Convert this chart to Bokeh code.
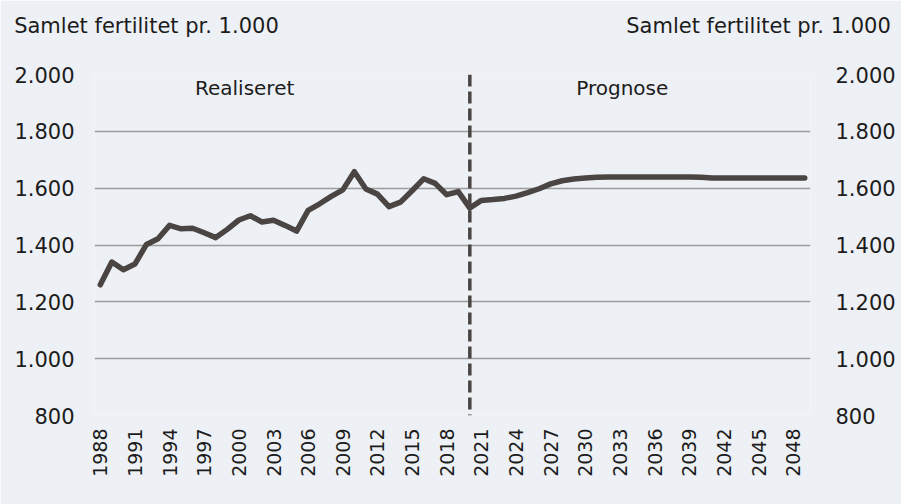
from bokeh.plotting import figure
from bokeh.models import Range1d, LinearAxis, FixedTicker, Span, Label
from bokeh.embed import file_html
from bokeh.resources import INLINE
import math

years = [1988, 1989, 1990, 1991, 1992, 1993, 1994, 1995, 1996, 1997,
         1998, 1999, 2000, 2001, 2002, 2003, 2004, 2005, 2006, 2007,
         2008, 2009, 2010, 2011, 2012, 2013, 2014, 2015, 2016, 2017,
         2018, 2019, 2020, 2021, 2022, 2023, 2024, 2025, 2026, 2027,
         2028, 2029, 2030, 2031, 2032, 2033, 2034, 2035, 2036, 2037,
         2038, 2039, 2040, 2041, 2042, 2043, 2044, 2045, 2046, 2047,
         2048, 2049]
fertility = [1260, 1340, 1313, 1333, 1402, 1422, 1469, 1457, 1459, 1443,
             1426, 1455, 1488, 1503, 1481, 1487, 1469, 1449, 1522, 1545,
             1571, 1594, 1658, 1597, 1579, 1535, 1551, 1591, 1633, 1617,
             1577, 1588, 1530, 1557, 1560, 1564, 1572, 1584, 1598, 1615,
             1626, 1632, 1636, 1638, 1639, 1639, 1639, 1639, 1639, 1639,
             1639, 1639, 1638, 1636, 1636, 1636, 1636, 1636, 1636, 1636,
             1636, 1636]
x_ticks = [1988, 1991, 1994, 1997, 2000, 2003, 2006, 2009, 2012, 2015,
           2018, 2021, 2024, 2027, 2030, 2033, 2036, 2039, 2042, 2045, 2048]
y_ticks = [800, 1000, 1200, 1400, 1600, 1800, 2000]
y_tick_labels = ["800", "1.000", "1.200", "1.400", "1.600", "1.800", "2.000"]
forecast_start = 2020
axis_title = "Samlet fertilitet pr. 1.000"
label_left = "Realiseret"
label_right = "Prognose"

BG = "#edf0f4"
INK = "#1c1c1c"
LINE = "#4a4543"
FONT = "DejaVu Sans"

p = figure(width=901, height=504, output_backend="svg", toolbar_location=None,
           x_range=Range1d(1987.5, 2049.5), y_range=Range1d(800, 2000),
           min_border_left=94, min_border_right=91, min_border_top=74,
           min_border_bottom=89)
p.background_fill_color = BG
p.border_fill_color = BG
p.outline_line_color = None

p.xgrid.grid_line_color = None
p.ygrid.grid_line_color = "#9c9c9c"
p.ygrid.grid_line_width = 1.5
p.ygrid.ticker = FixedTicker(ticks=y_ticks)

overrides = {v: s for v, s in zip(y_ticks, y_tick_labels)}

p.yaxis.ticker = FixedTicker(ticks=y_ticks)
p.yaxis.major_label_overrides = overrides
right_axis = LinearAxis(ticker=FixedTicker(ticks=y_ticks),
                        major_label_overrides=overrides)
p.add_layout(right_axis, "right")

for ax, so in [(p.yaxis[0], 14), (right_axis, 19)]:
    ax.axis_line_color = None
    ax.major_tick_line_color = None
    ax.minor_tick_line_color = None
    ax.major_label_text_font = FONT
    ax.major_label_text_font_size = "21px"
    ax.major_label_text_color = INK
    ax.major_label_standoff = so

xa = p.xaxis[0]
xa.ticker = FixedTicker(ticks=x_ticks)
xa.major_label_orientation = math.pi / 2
xa.axis_line_color = None
xa.major_tick_line_color = None
xa.minor_tick_line_color = None
xa.major_label_text_font = FONT
xa.major_label_text_font_size = "19px"
xa.major_label_text_color = INK
xa.major_label_standoff = 7

# axis titles (left and right) drawn as labels of an axis above the frame
title_pos = [1992, 2045]
top_axis = LinearAxis(ticker=FixedTicker(ticks=title_pos),
                      major_label_overrides={t: axis_title for t in title_pos})
top_axis.axis_line_color = None
top_axis.major_tick_line_color = None
top_axis.minor_tick_line_color = None
top_axis.major_label_text_font = FONT
top_axis.major_label_text_font_size = "21px"
top_axis.major_label_text_color = INK
top_axis.major_label_standoff = 31
p.add_layout(top_axis, "above")

p.add_layout(Span(location=forecast_start, dimension="height",
                  line_color=LINE, line_width=3.5, line_dash="12 5"))

p.line(years, fertility, line_color=LINE, line_width=5.5,
       line_cap="round", line_join="round")

for txt, x in [(label_left, 2000.5), (label_right, 2033.2)]:
    p.add_layout(Label(x=x, y=1951, text=txt, text_align="center",
                       text_baseline="middle", text_font=FONT,
                       text_font_size="20px", text_color=INK))

open("out.html", "w").write(file_html(p, INLINE))
